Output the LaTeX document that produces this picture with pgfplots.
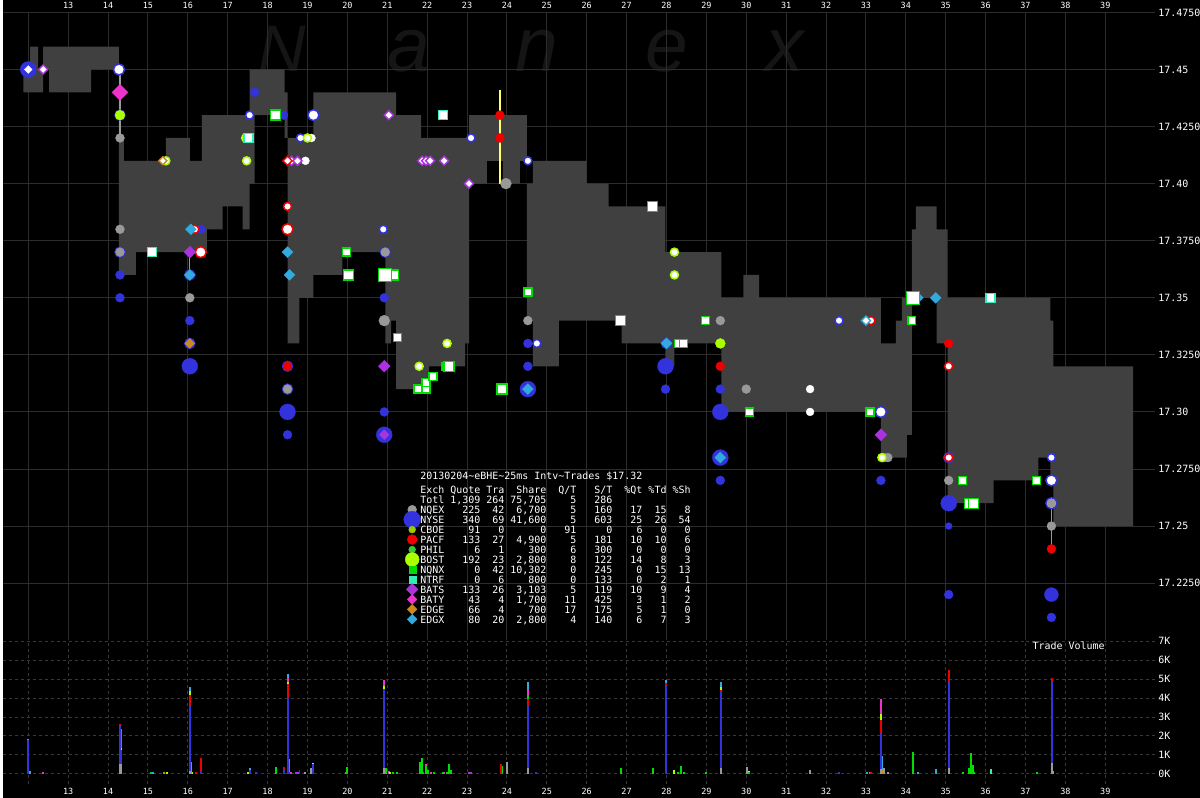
\documentclass[border=0pt]{standalone}
\usepackage{fontspec}
\setmonofont{DejaVu Sans Mono}
\newfontfamily\wmfont{Liberation Sans}
\usepackage{pgfplots}
\pgfplotsset{compat=1.18}
\usepackage{pgfplotstable}

\definecolor{cNQEX}{HTML}{999999}
\definecolor{cNYSE}{HTML}{3333DD}
\definecolor{cCBOE}{HTML}{99CC00}
\definecolor{cPACF}{HTML}{EE0000}
\definecolor{cPHIL}{HTML}{33CC33}
\definecolor{cBOST}{HTML}{AAFF00}
\definecolor{cNQNX}{HTML}{00DD00}
\definecolor{cNTRF}{HTML}{33EEBB}
\definecolor{cBATS}{HTML}{AA33DD}
\definecolor{cBATY}{HTML}{EE33CC}
\definecolor{cEDGE}{HTML}{CC8822}
\definecolor{cEDGX}{HTML}{33AADD}
\definecolor{bandc}{HTML}{404040}
\definecolor{gridc}{HTML}{383838}
\definecolor{gridd}{HTML}{2C2C2C}
\definecolor{wm}{HTML}{151515}
\definecolor{ylw}{HTML}{FFFF66}

\newcommand\legfont{\fontsize{10}{10}\selectfont\ttfamily}
\newcommand\tickfont{\fontsize{8.5}{8.5}\selectfont\ttfamily}
\newlength\cw
\newcommand\row[9]{\makebox[4\cw][l]{#1}\makebox[6\cw][r]{#2}\makebox[4\cw][r]{#3}\makebox[7\cw][r]{#4}\makebox[5\cw][r]{#5}\makebox[6\cw][r]{#6}\makebox[5\cw][r]{#7}\makebox[4\cw][r]{#8}\makebox[4\cw][r]{#9}}

\pgfplotstableread{
x ask bid
11.875 17.45 17.44
12.05 17.46 17.44
12.25 17.45 17.44
12.375 17.46 17.45
12.525 17.46 17.44
13.575 17.46 17.45
14.275 17.42 17.36
14.4 17.41 17.36
14.7 17.41 17.37
15.45 17.42 17.37
16.05 17.41 17.37
16.35 17.43 17.37
16.475 17.43 17.38
16.875 17.43 17.39
17.375 17.43 17.38
17.55 17.45 17.40
17.675 17.45 17.43
18.425 17.44 17.42
18.5 17.42 17.33
18.8 17.42 17.35
19.15 17.44 17.36
19.875 17.44 17.37
20.95 17.44 17.33
21.1 17.44 17.34
21.225 17.43 17.31
21.85 17.42 17.31
22.05 17.42 17.32
22.95 17.42 17.33
23.05 17.43 17.40
23.5 17.43 17.41
23.9 17.43 17.40
24.325 17.43 17.41
24.5 17.40 17.34
24.65 17.41 17.32
25.3 17.41 17.34
26.0 17.40 17.34
26.55 17.39 17.34
26.875 17.39 17.33
27.975 17.37 17.32
28.2 17.37 17.33
29.375 17.35 17.30
29.925 17.36 17.30
30.325 17.35 17.30
33.375 17.33 17.28
33.75 17.34 17.28
33.9 17.35 17.28
34.025 17.35 17.29
34.15 17.38 17.35
34.25 17.39 17.35
34.775 17.38 17.33
35.05 17.35 17.26
36.2 17.35 17.27
37.325 17.35 17.28
37.625 17.34 17.27
37.7 17.32 17.25
39.7 17.32 17.25
}\nbbo

\pgfplotsset{
  dot/.style 2 args={only marks, mark=*, mark size=#2, mark options={draw=#1, fill=#1, line width=0.3pt}},
  ring/.style 2 args={only marks, mark=*, mark size=#2, mark options={draw=#1, fill=white, line width=1.5pt}},
  dia/.style 2 args={only marks, mark=square*, mark size=#2, mark options={rotate=45, draw=#1, fill=#1, line width=0.3pt}},
  wdia/.style 2 args={only marks, mark=square*, mark size=#2, mark options={rotate=45, draw=#1, fill=white, line width=1.4pt}},
  sq/.style 2 args={only marks, mark=square*, mark size=#2, mark options={draw=#1, fill=white, line width=1.4pt}},
  fsq/.style 2 args={only marks, mark=square*, mark size=#2, mark options={draw=#1, fill=#1, line width=0.3pt}},
  vb/.style={ycomb, mark=none, line width=2pt, draw=#1},
  base/.style={scale only axis, width=1155pt, xmin=11.375, xmax=40.25,
    axis line style={draw=none}, major tick length=0pt,
    grid style={color=gridc, dash pattern=on 3pt off 3pt, line width=1pt},
    xtick={12,...,39},
    xticklabels={{},13,14,15,16,17,18,19,20,21,22,23,24,25,26,27,28,29,30,31,32,33,34,35,36,37,38,39},
    ticklabel style={text=white},
    yticklabel pos=right,
    yticklabel style={anchor=west, inner sep=0pt, xshift=3pt, font=\legfont},
  },
}

\begin{document}
\settowidth{\cw}{\legfont 0}
\begin{tikzpicture}
\fill[black] (0,0) rectangle (1200pt,800pt);
% watermark
\begin{scope}[every node/.style={anchor=base west, inner sep=0pt, text=wm}]
\node[font=\wmfont\itshape\fontsize{66}{66}\selectfont] at (256pt,728pt) {N};
\begin{scope}[every node/.append style={font=\wmfont\itshape\fontsize{77}{77}\selectfont}]
\node at (385pt,728pt) {a};
\node at (513pt,728pt) {n};
\node at (644pt,728pt) {e};
\node at (764pt,728pt) {x};
\end{scope}
\end{scope}

% ---------------- price panel ----------------
\begin{axis}[base, at={(0pt,158pt)}, anchor=south west, height=630pt,
  ymin=17.2, ymax=17.4752,
  ytick={17.225,17.25,17.275,17.3,17.325,17.35,17.375,17.4,17.425,17.45,17.475},
  yticklabels={17.2250,17.25,17.2750,17.30,17.3250,17.35,17.3750,17.40,17.4250,17.45,17.4750},
  xticklabel pos=right,
  xticklabel style={anchor=south, inner sep=0pt, yshift=3pt, font=\tickfont},
]
% grid lines of the price panel
\pgfplotsinvokeforeach{12,...,39}{\addplot[draw=gridd, line width=1pt, mark=none] coordinates {(#1,17.2) (#1,17.4752)};}
\pgfplotsinvokeforeach{17.225,17.25,17.275,17.3,17.325,17.35,17.375,17.4,17.425,17.45,17.475}{\addplot[draw=gridd, line width=1pt, mark=none] coordinates {(11.375,#1) (40.25,#1)};}
% NBBO band: bid (invisible) with the spread stacked on it
\addplot[const plot, stack plots=y, draw=none, mark=none] table[x=x, y=bid] {\nbbo};
\addplot[const plot, stack plots=y, draw=none, fill=bandc, mark=none] table[x=x, y expr=\thisrow{ask}-\thisrow{bid}] {\nbbo} \closedcycle;

% trade lines
\addplot[draw=cNQEX, line width=1.2pt, mark=none] coordinates {(14.3,17.45)(14.3,17.42)};
\addplot[draw=cNQEX, line width=1.2pt, mark=none] coordinates {(16.05,17.37)(16.05,17.36)};
\addplot[draw=cNQEX, line width=1.2pt, mark=none] coordinates {(37.65,17.26)(37.65,17.24)};
\addplot[draw=ylw, line width=1.5pt, mark=none] coordinates {(23.825,17.441)(23.825,17.40)};

% NYSE
\addplot[dot={cNYSE}{8}] coordinates {(12.0,17.45)(16.05,17.32)(18.5,17.30)(20.925,17.29)(24.525,17.31)(27.975,17.32)(29.35,17.30)(29.35,17.28)(35.075,17.26)};
\addplot[dot={cNYSE}{7}] coordinates {(37.65,17.22)};
\addplot[dot={cNYSE}{5.5}] coordinates {(16.05,17.36)(28.0,17.33)(16.05,17.33)(14.3,17.43)(14.3,17.37)(18.5,17.32)(18.5,17.31)(20.95,17.37)(35.075,17.28)};
\addplot[dot={cNYSE}{4.5}] coordinates {(14.3,17.36)(14.3,17.35)(16.05,17.34)(16.325,17.38)(17.675,17.44)(18.4,17.43)(18.5,17.29)(20.925,17.35)(20.925,17.30)(24.525,17.33)(24.525,17.32)(27.975,17.31)(29.35,17.31)(29.35,17.27)(33.375,17.27)(35.075,17.22)(37.65,17.21)};
\addplot[dot={cNYSE}{3.5}] coordinates {(35.075,17.25)};
\addplot[ring={cNYSE}{4}] coordinates {(17.55,17.43)(18.825,17.42)(23.1,17.42)(24.525,17.41)(20.9,17.38)(24.75,17.33)(32.325,17.34)(37.65,17.28)};
\addplot[ring={cNYSE}{5.5}] coordinates {(14.275,17.45)(19.15,17.43)(33.375,17.30)(37.65,17.27)(37.65,17.26)};
% NQEX
\addplot[dot={cNQEX}{4.5}] coordinates {(14.3,17.42)(14.3,17.38)(14.3,17.37)(16.05,17.35)(18.5,17.31)(20.95,17.37)(24.525,17.34)(29.35,17.34)(30.0,17.31)(33.45,17.28)(33.55,17.28)(35.075,17.27)(37.65,17.25)(37.65,17.26)};
\addplot[dot={cNQEX}{5.5}] coordinates {(20.925,17.34)(23.975,17.40)};
\addplot[dot={white}{4}] coordinates {(31.6,17.31)(31.6,17.30)(18.95,17.41)(19.1,17.42)};
% BOST / CBOE
\addplot[dot={cBOST}{5}] coordinates {(14.3,17.43)(29.35,17.33)};
\addplot[ring={cBOST}{4}] coordinates {(15.45,17.41)(17.45,17.42)(17.475,17.41)(19.0,17.42)(21.8,17.32)(22.5,17.33)(28.2,17.37)(28.2,17.36)(33.4,17.28)};
% PACF
\addplot[dot={cPACF}{4.5}] coordinates {(23.825,17.43)(23.825,17.42)(29.35,17.32)(35.075,17.33)(37.65,17.24)(18.5,17.32)};
\addplot[ring={cPACF}{4}] coordinates {(18.5,17.39)(16.175,17.38)(33.125,17.34)(35.075,17.32)(35.075,17.28)};
\addplot[ring={cPACF}{5.5}] coordinates {(18.5,17.38)(16.325,17.37)};
% diamonds
\addplot[dia={cBATS}{4.2}] coordinates {(20.925,17.32)(33.375,17.29)(16.05,17.37)};
\addplot[dia={cBATS}{3.5}] coordinates {(20.925,17.29)};
\addplot[wdia={cBATS}{3.2}] coordinates {(12.375,17.45)(18.6,17.41)(18.75,17.41)(21.04,17.43)(21.875,17.41)(21.975,17.41)(22.075,17.41)(22.425,17.41)(23.05,17.40)};
\addplot[wdia={cPACF}{3.2}] coordinates {(18.5,17.41)};
\addplot[dia={cBATY}{5.7}] coordinates {(14.3,17.44)};
\addplot[dia={cEDGX}{3.9}] coordinates {(18.5,17.37)(18.55,17.36)(16.05,17.36)(28.0,17.33)(24.525,17.31)(29.35,17.28)(34.3,17.35)(34.75,17.35)(16.075,17.38)};
\addplot[wdia={cEDGX}{3.2}] coordinates {(33.0,17.34)};
\addplot[dia={cEDGE}{3.5}] coordinates {(16.05,17.33)};
\addplot[wdia={cEDGE}{2.8}] coordinates {(15.375,17.41)};
\addplot[dia={white}{2.8}] coordinates {(12.0,17.45)};
% squares
\addplot[sq={cNQNX}{4}] coordinates {(19.975,17.37)(21.25,17.3325)(21.775,17.31)(21.975,17.31)(21.975,17.313)(22.15,17.3155)(22.475,17.32)(24.525,17.3525)(28.3,17.33)(28.425,17.33)(28.975,17.34)(30.075,17.30)(33.1,17.30)(35.425,17.27)(37.275,17.27)(34.15,17.34)};
\addplot[sq={cNQNX}{5}] coordinates {(18.2,17.43)(20.025,17.36)(21.15,17.36)(23.875,17.31)(26.85,17.34)(27.65,17.39)(35.6,17.26)(35.7,17.26)(22.55,17.32)};
\addplot[sq={cNQNX}{6.5}] coordinates {(20.95,17.36)(34.175,17.35)};
\addplot[sq={cNTRF}{4.5}] coordinates {(17.525,17.42)(15.1,17.37)(22.4,17.43)(36.125,17.35)};

% legend markers
\addplot[dot={cNQEX}{4.5}] coordinates {(21.625,17.25718)};
\addplot[dot={cNYSE}{8.5}] coordinates {(21.625,17.25282)};
\addplot[dot={cCBOE}{3.5}] coordinates {(21.625,17.24845)};
\addplot[dot={cPACF}{5}] coordinates {(21.625,17.24409)};
\addplot[dot={cPHIL}{3.5}] coordinates {(21.625,17.23972)};
\addplot[dot={cBOST}{7}] coordinates {(21.625,17.23536)};
\addplot[fsq={cNQNX}{3.5}] coordinates {(21.625,17.23099)};
\addplot[fsq={cNTRF}{3.5}] coordinates {(21.625,17.22663)};
\addplot[dia={cBATS}{4.2}] coordinates {(21.625,17.22226)};
\addplot[dia={cBATY}{3.5}] coordinates {(21.625,17.21789)};
\addplot[dia={cEDGE}{3.5}] coordinates {(21.625,17.21353)};
\addplot[dia={cEDGX}{3.5}] coordinates {(21.625,17.20916)};
\end{axis}

% ---------------- volume panel ----------------
\begin{axis}[base, at={(0pt,14pt)}, anchor=south west, height=144pt,
  xmajorgrids, ymajorgrids,
  ymin=-0.526, ymax=7.053,
  ytick={0,1,2,3,4,5,6,7},
  yticklabels={0K,1K,2K,3K,4K,5K,6K,7K},
  xticklabel pos=left,
  xticklabel style={anchor=north, inner sep=0pt, yshift=-4pt, font=\tickfont},
]
\addplot[vb=cEDGX] coordinates {(12.0,1.85)(12.05,0.15)(15.125,0.12)(16.06,4.61)(16.09,0.62)(17.55,0.3)(18.508,5.26)(18.53,0.8)(24.53,4.84)(27.98,4.95)(29.36,4.84)(33.02,0.1)(33.41,0.95)(34.31,0.1)(34.76,0.25)};
\addplot[vb=cNTRF] coordinates {(36.13,0.25)};
\addplot[vb=cBATY] coordinates {(12.375,0.1)(14.32,2.35)(18.508,5.05)(18.53,0.6)(18.58,0.1)(20.93,4.95)(21.05,0.15)(21.83,0.3)(21.89,0.1)(21.975,0.53)(22.09,0.1)(22.42,0.1)(24.53,4.44)(33.38,3.96)};
\addplot[vb=cBATS] coordinates {(18.7,0.1)(18.75,0.1)(23.06,0.1)(23.1,0.1)};
\addplot[vb=cBOST] coordinates {(14.32,1.35)(15.475,0.1)(16.06,4.38)(16.1,0.1)(17.5,0.12)(17.57,0.1)(18.508,4.84)(18.95,0.1)(19.15,0.55)(20.93,4.65)(21.07,0.1)(28.2,0.2)(29.36,4.56)(30.06,0.15)(33.38,3.16)(34.17,0.72)};
\addplot[vb=cEDGE] coordinates {(15.4,0.1)(16.09,0.35)(33.41,0.25)};
\addplot[vb=cNQNX] coordinates {(15.075,0.12)(18.2,0.35)(19.975,0.12)(20.0,0.35)(20.96,0.3)(21.15,0.1)(21.25,0.1)(21.81,0.6)(21.86,0.84)(21.975,0.42)(22.01,0.2)(22.18,0.1)(22.4,0.1)(22.5,0.1)(22.56,0.5)(22.6,0.2)(23.88,0.4)(24.53,4.09)(26.86,0.3)(27.66,0.3)(28.28,0.1)(28.36,0.4)(28.43,0.1)(28.98,0.1)(30.08,0.1)(33.1,0.1)(34.19,1.16)(35.43,0.1)(35.58,0.32)(35.63,1.1)(35.68,0.45)(35.71,0.1)(37.28,0.1)};
\addplot[vb=cPACF] coordinates {(14.29,2.63)(16.06,4.15)(16.2,0.1)(16.34,0.85)(18.4,0.35)(18.508,4.74)(18.53,0.12)(23.86,0.53)(24.53,3.96)(27.98,4.77)(29.36,4.42)(33.12,0.1)(33.38,2.86)(35.08,5.47)(37.66,5.05)};
\addplot[vb=cNYSE] coordinates {(12.0,1.78)(14.29,2.55)(14.32,1.25)(16.06,3.63)(16.34,0.1)(17.55,0.18)(17.7,0.1)(18.4,0.25)(18.508,4.05)(18.8,0.2)(19.15,0.5)(20.93,4.47)(24.53,3.6)(24.73,0.1)(27.98,4.67)(29.36,4.3)(32.33,0.1)(33.38,2.1)(35.08,4.88)(37.66,4.88)};
\addplot[vb=cNQEX] coordinates {(14.29,0.5)(14.32,0.5)(16.06,0.15)(18.95,0.1)(19.1,0.3)(20.93,0.32)(24.0,0.6)(24.53,0.32)(29.36,0.32)(30.03,0.35)(31.61,0.2)(33.38,0.25)(33.46,0.32)(33.56,0.1)(35.08,0.32)(37.66,0.55)(37.68,0.15)};
\end{axis}

% ---------------- text table ----------------
\begin{scope}[every node/.style={anchor=base west, inner sep=0pt, text=white, font=\legfont}]
\node at (418pt,319pt) {20130204\textasciitilde eBHE\textasciitilde 25ms Intv\textasciitilde Trades \$17.32};
\node at (418pt,305pt) {\row{Exch}{Quote}{Tra}{Share}{Q/T}{S/T}{\%Qt}{\%Td}{\%Sh}};
\node at (418pt,295pt) {\row{Totl}{1,309}{264}{75,705}{5}{286}{}{}{}};
\node at (418pt,285pt) {\row{NQEX}{225}{42}{6,700}{5}{160}{17}{15}{8}};
\node at (418pt,275pt) {\row{NYSE}{340}{69}{41,600}{5}{603}{25}{26}{54}};
\node at (418pt,265pt) {\row{CBOE}{91}{0}{0}{91}{0}{6}{0}{0}};
\node at (418pt,255pt) {\row{PACF}{133}{27}{4,900}{5}{181}{10}{10}{6}};
\node at (418pt,245pt) {\row{PHIL}{6}{1}{300}{6}{300}{0}{0}{0}};
\node at (418pt,235pt) {\row{BOST}{192}{23}{2,800}{8}{122}{14}{8}{3}};
\node at (418pt,225pt) {\row{NQNX}{0}{42}{10,302}{0}{245}{0}{15}{13}};
\node at (418pt,215pt) {\row{NTRF}{0}{6}{800}{0}{133}{0}{2}{1}};
\node at (418pt,205pt) {\row{BATS}{133}{26}{3,103}{5}{119}{10}{9}{4}};
\node at (418pt,195pt) {\row{BATY}{43}{4}{1,700}{11}{425}{3}{1}{2}};
\node at (418pt,185pt) {\row{EDGE}{66}{4}{700}{17}{175}{5}{1}{0}};
\node at (418pt,175pt) {\row{EDGX}{80}{20}{2,800}{4}{140}{6}{7}{3}};
\node at (1032pt,149pt) {Trade Volume};
\end{scope}
\pgfresetboundingbox
\path[use as bounding box] (0,0) rectangle (1200pt,800pt);
\end{tikzpicture}
\end{document}
